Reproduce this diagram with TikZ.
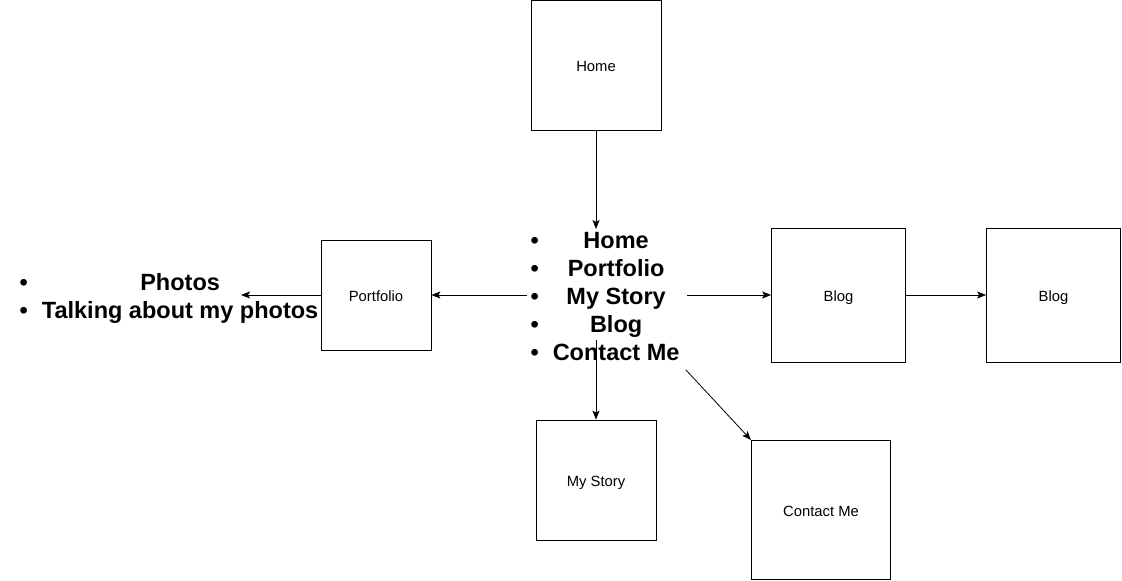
\documentclass[tikz,border=0pt]{standalone}
\usepackage{fontspec}
\setmainfont{Liberation Sans}
\usetikzlibrary{arrows.meta}
\begin{document}
\begin{tikzpicture}[x=1pt,y=-1pt,
  page/.style={draw=black,line width=0.8pt,minimum width=#1,minimum height=#1,inner sep=0pt,text height=13.5pt,text depth=0pt,font=\fontsize{14.8}{17}\selectfont},
  biglist/.style={inner sep=0pt,font=\fontsize{23.5}{28}\selectfont\bfseries},
  link/.style={draw=black,line width=0.8pt,-{Stealth[length=9pt,width=7pt,inset=2pt]}}]
\useasboundingbox (0,0) rectangle (1122,581);
\node[page=130pt] (home) at (596,65) {Home};
\node[page=110pt] (portfolio) at (376,295) {Portfolio};
\node[page=134pt] (blog1) at (838.5,295) {Blog};
\node[page=134pt] (blog2) at (1053.5,295) {Blog};
\node[page=120pt] (story) at (596,480) {My Story};
\node[page=139pt] (contact) at (821,510) {Contact Me};
\node[biglist] (menu) at (605,299) {\begin{tabular}{@{}l@{\hspace{14pt}}c@{}}
•&Home\\ •&Portfolio\\ •&My Story\\ •&Blog\\ •&Contact Me\end{tabular}};
\node[biglist] (photos) at (169,299) {\begin{tabular}{@{}l@{\hspace{14pt}}c@{}}
•&Photos\\ •&Talking about my photos\end{tabular}};
\coordinate (menutop) at (596,229);
\coordinate (menuleft) at (527,295);
\coordinate (menuright) at (687,295);
\coordinate (menubottom) at (596,340);
\coordinate (menudiag) at (686,370);
\coordinate (photosend) at (241,295);
\coordinate (contactcorner) at (751,440);
\draw[link] (home.south) -- (menutop);
\draw[link] (menuleft) -- (portfolio.east);
\draw[link] (portfolio.west) -- (photosend);
\draw[link] (menuright) -- (blog1.west);
\draw[link] (blog1.east) -- (blog2.west);
\draw[link] (menubottom) -- (story.north);
\draw[link] (menudiag) -- (contactcorner);
\end{tikzpicture}
\end{document}
